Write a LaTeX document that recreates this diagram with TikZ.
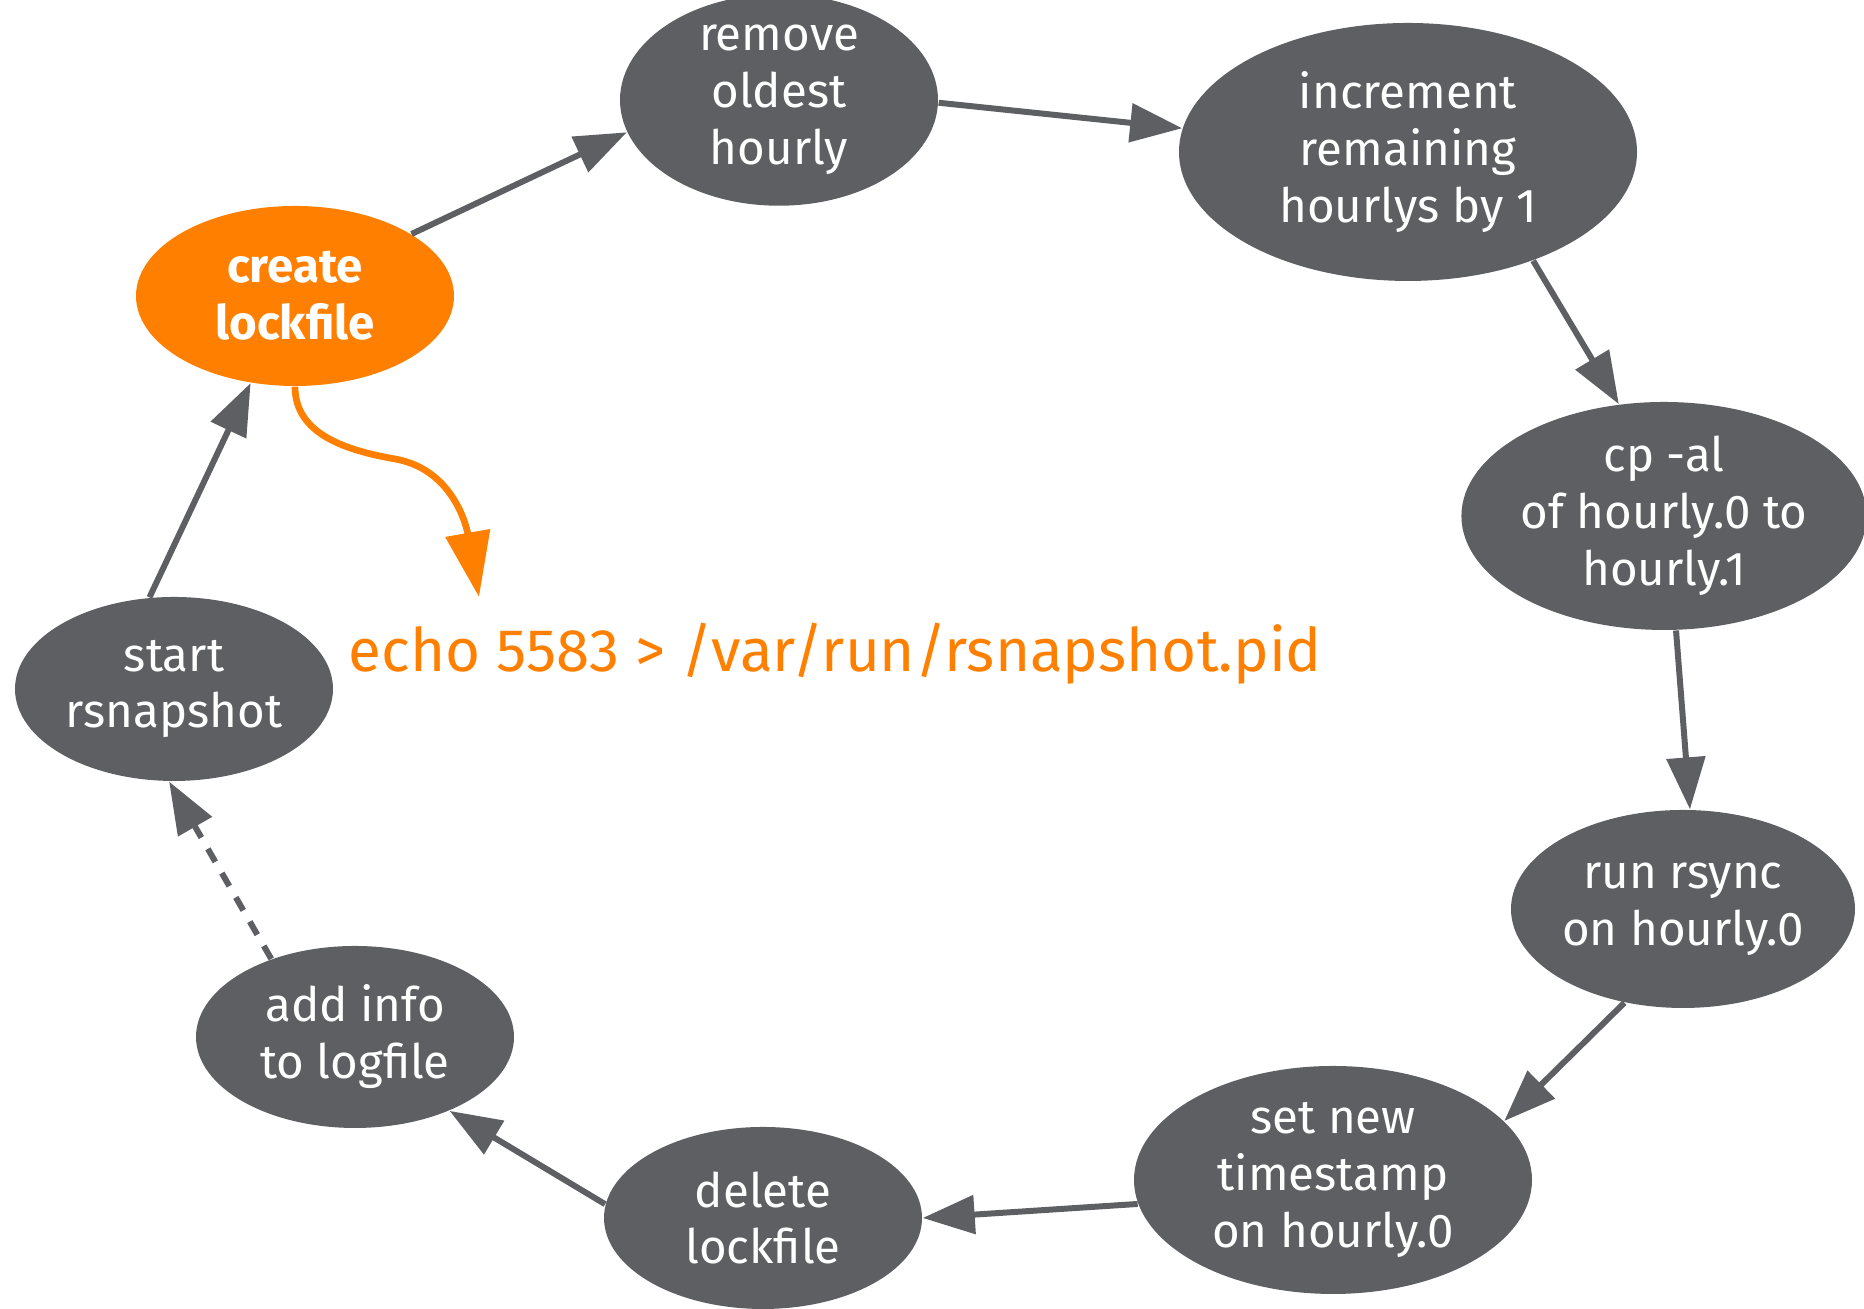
\documentclass[tikz,border=0pt]{standalone}
\usepackage{fontspec}
\setmainfont{Fira Sans}
\usetikzlibrary{shapes.geometric,arrows.meta}

\definecolor{stepgray}{HTML}{5E5F63}
\definecolor{lockorange}{HTML}{FF8000}

\tikzset{
    task/.style={ellipse, fill=stepgray, text=white, inner sep=0pt, align=center,
        font=\fontsize{13.5}{16.2}\selectfont},
    locktask/.style={task, fill=lockorange, font=\fontsize{13.5}{16.2}\selectfont\bfseries},
    flow/.style={draw=stepgray, line width=1.7pt, -{Triangle[length=0.52cm,width=0.38cm]}},
    dashflow/.style={flow, dash pattern=on 0.15cm off 0.13cm},
    pidflow/.style={draw=lockorange, line width=1.9pt, -{Triangle[length=0.65cm,width=0.44cm]}},
}

\begin{document}
\begin{tikzpicture}
    \useasboundingbox (0,0) rectangle (18.64,13.09);

    % the cycle
    \node[locktask, minimum width=3.18cm, minimum height=1.80cm] (create) at (2.95,10.13) {create\\lockfile};
    \node[task, minimum width=3.18cm, minimum height=1.84cm] (remove) at (7.79,12.09) {remove\\oldest\\hourly};
    \node[task, minimum width=4.58cm, minimum height=2.58cm] (increment) at (14.08,11.57) {increment\\remaining\\hourlys by 1};
    \node[task, minimum width=3.96cm, minimum height=2.28cm] (cpal) at (16.64,7.93) {cp -al\\of hourly.0 to\\hourly.1};
    \node[task, minimum width=3.44cm, minimum height=1.98cm] (rsync) at (16.83,4.00) {run rsync\\on hourly.0};
    \node[task, minimum width=3.98cm, minimum height=2.28cm] (stamp) at (13.33,1.29) {set new\\timestamp\\on hourly.0};
    \node[task, minimum width=3.18cm, minimum height=1.82cm] (delete) at (7.63,0.91) {delete\\lockfile};
    \node[task, minimum width=3.18cm, minimum height=1.82cm] (loginfo) at (3.55,2.72) {add info\\to logfile};
    \node[task, minimum width=3.18cm, minimum height=1.84cm] (start) at (1.74,6.20) {start\\rsnapshot};

    \draw[flow] (create.28) -- (remove.192);
    \draw[flow] (remove.359) -- (increment.174);
    \draw[flow] (increment.319) -- (cpal.112);
    \draw[flow] (cpal.276) -- (rsync.86);
    \draw[flow] (rsync.238) -- (stamp.19);
    \draw[flow] (stamp.187) -- (delete.0);
    \draw[flow] (delete.175) -- (loginfo.322);
    \draw[dashflow] (loginfo.137) -- (start.267);
    \draw[flow] (start.105) -- (create.243);

    % pid file
    \node[anchor=base west, inner sep=0pt, text=lockorange, font=\fontsize{17.1}{20}\selectfont] (pidtext) at (3.48,6.37) {echo 5583 > /var/run/rsnapshot.pid};
    \coordinate (pidbend) at (3.95,8.5);
    \coordinate (pidtip) at (4.79,7.12);
    \draw[pidflow] (create.south) to[out=-90,in=170] (pidbend) to[out=-10,in=100] (pidtip);

\end{tikzpicture}
\end{document}
